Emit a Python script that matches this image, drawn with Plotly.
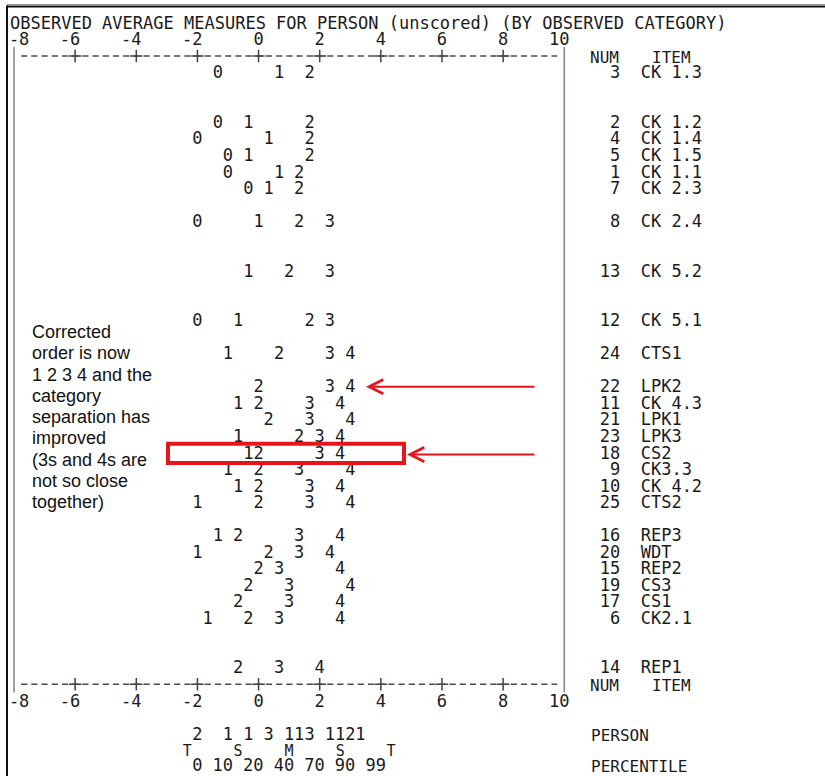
import plotly.graph_objects as go

# ---------------- data ----------------
title_text = "OBSERVED AVERAGE MEASURES FOR PERSON (unscored) (BY OBSERVED CATEGORY)"
axis_ticks = [-8, -6, -4, -2, 0, 2, 4, 6, 8, 10]

item_num = [3, 2, 4, 5, 1, 7, 8, 13, 12, 24, 22, 11, 21, 23, 18, 9, 10, 25,
            16, 20, 15, 19, 17, 6, 14]
item_name = ["CK 1.3", "CK 1.2", "CK 1.4", "CK 1.5", "CK 1.1", "CK 2.3", "CK 2.4",
             "CK 5.2", "CK 5.1", "CTS1", "LPK2", "CK 4.3", "LPK1", "LPK3", "CS2",
             "CK3.3", "CK 4.2", "CTS2", "REP3", "WDT", "REP2", "CS3", "CS1",
             "CK2.1", "REP1"]
# map row of each item (ordered by item measure)
item_line = [3, 6, 7, 8, 9, 10, 12, 15, 18, 20, 22, 23, 24, 25, 26, 27, 28, 29,
             31, 32, 33, 34, 35, 36, 39]

N = None
# observed average person measure for each category of each item
cat0 = [-1.33, -1.33, -2.0, -1.0, -1.0, -0.33, -2.0, N, -2.0, N, N, N, N, N, N, N,
        N, N, N, N, N, N, N, N, N]
cat1 = [0.67, -0.33, 0.33, -0.33, 0.67, 0.33, 0.0, -0.33, -0.67, -1.0, N, -0.67, N,
        -0.67, -0.33, -1.0, -0.67, -2.0, -1.33, -2.0, N, N, N, -1.67, N]
cat2 = [1.67, 1.67, 1.67, 1.67, 1.33, 1.33, 1.33, 1.0, 1.67, 0.67, 0.0, 0.0, 0.33,
        1.33, 0.0, 0.0, 0.0, 0.0, -0.67, 0.33, 0.0, -0.33, -0.67, -0.33, -0.67]
cat3 = [N, N, N, N, N, N, 2.33, 2.33, 2.33, 2.33, 2.33, 1.67, 1.67, 2.0, 2.0, 1.33,
        1.67, 1.67, 1.33, 1.33, 0.67, 1.0, 1.0, 0.67, 0.67]
cat4 = [N, N, N, N, N, N, N, N, N, 3.0, 3.0, 2.67, 3.0, 2.67, 2.67, 3.0, 2.67, 3.0,
        2.67, 2.33, 2.67, 3.0, 2.67, 2.67, 2.0]
categories = [cat0, cat1, cat2, cat3, cat4]

person_measure = [-2.0, -1.0, -0.33, 0.33, 1.0, 1.33, 1.67, 2.33, 2.67, 3.0, 3.33]
person_count = [2, 1, 1, 3, 1, 1, 3, 1, 1, 2, 1]
stat_measure = [-2.33, -0.67, 1.0, 2.67, 4.33]
stat_label = ["T", "S", "M", "S", "T"]
pct_measure = [-2.0, -1.17, -0.17, 0.83, 1.83, 2.83, 3.83]
pct_label = ["0", "10", "20", "40", "70", "90", "99"]

note_lines = ["Corrected", "order is now", "1 2 3 4 and the", "category",
              "separation has", "improved", "(3s and 4s are", "not so close",
              "together)"]

# ---------------- layout mapping ----------------
W, H = 825, 776
MONO = "DejaVu Sans Mono"
SANS = "Liberation Sans, Arial, sans-serif"
INK = "#1a1a1a"
RED = "#e8141b"
FS = 17

PXU = 30.57            # pixels per logit
X0 = -8 - 14 / PXU
X1 = X0 + W / PXU
LPX = 16.53            # pixels per text row
Y_TOP = -23 / LPX
Y_BOT = (H - 23) / LPX
TDY = 1.5 / LPX        # small baseline correction for text rows


def xm(px):
    return X0 + px / PXU


def yl(py):
    return (py - 23) / LPX


def paper_y(line):
    return 1 - (23 + line * LPX) / H


n = len(item_num)
fig = go.Figure()
mono = dict(family=MONO, size=FS, color=INK)
text_rows = [l + TDY for l in item_line]

for k, vals in enumerate(categories):
    fig.add_trace(go.Scatter(x=vals, y=text_rows, mode="text", text=[str(k)] * n,
                             textfont=mono, hoverinfo="skip", showlegend=False))

num_right = -8 + 59.5 / 3
name_left = -8 + 61.5 / 3
fig.add_trace(go.Scatter(x=[num_right] * n, y=text_rows, mode="text",
                         text=[str(v) for v in item_num], textposition="middle left",
                         textfont=mono, hoverinfo="skip", showlegend=False))
fig.add_trace(go.Scatter(x=[name_left] * n, y=text_rows, mode="text",
                         text=item_name, textposition="middle right",
                         textfont=mono, hoverinfo="skip", showlegend=False))

# frame "+" marks
inner = axis_ticks[1:-1]
fig.add_trace(go.Scatter(x=inner + inner, y=[2] * len(inner) + [40] * len(inner),
                         mode="markers",
                         marker=dict(symbol="cross-thin", size=9,
                                     line=dict(width=1.5, color="#4a3a4a")),
                         hoverinfo="skip", showlegend=False))

# person distribution rows
fig.add_trace(go.Scatter(x=person_measure, y=[43 + TDY] * len(person_measure), mode="text",
                         text=[str(c) for c in person_count], textfont=mono,
                         hoverinfo="skip", showlegend=False))
fig.add_trace(go.Scatter(x=stat_measure, y=[44 + TDY] * len(stat_measure), mode="text",
                         text=stat_label, textfont=dict(family=MONO, size=15, color=INK),
                         hoverinfo="skip", showlegend=False))
fig.add_trace(go.Scatter(x=pct_measure, y=[45] * len(pct_measure), mode="text",
                         text=pct_label, textfont=mono,
                         hoverinfo="skip", showlegend=False))

shapes = []
# vertical bars of the map
for xv in (axis_ticks[0], axis_ticks[-1]):
    shapes.append(dict(type="line", xref="x", yref="y", x0=xv, x1=xv, y0=1.45, y1=40.5,
                       line=dict(color="#8f8a82", width=1.6)))
# dashed rulers
for ln in (2, 40):
    shapes.append(dict(type="line", xref="x", yref="y",
                       x0=axis_ticks[0] + 7.1 / PXU, x1=axis_ticks[-1] - 7.1 / PXU,
                       y0=ln, y1=ln,
                       line=dict(color="#4a4a4a", width=1.4, dash="6.2px,4px")))
# red box
shapes.append(dict(type="rect", xref="x", yref="y", x0=xm(168), x1=xm(404),
                   y0=yl(443.8), y1=yl(463), line=dict(color=RED, width=4)))
# page borders
shapes.append(dict(type="line", xref="paper", yref="paper", x0=7 / W, x1=1,
                   y0=1 - 4.5 / H, y1=1 - 4.5 / H, line=dict(color="#9a9a9a", width=1)))
shapes.append(dict(type="line", xref="paper", yref="paper", x0=7 / W, x1=1,
                   y0=1 - 6.5 / H, y1=1 - 6.5 / H, line=dict(color="#111111", width=2)))
shapes.append(dict(type="line", xref="paper", yref="paper", x0=7 / W, x1=7 / W,
                   y0=0, y1=1 - 5.5 / H, line=dict(color="#111111", width=2)))

annotations = []
# headers
for ln in (2, 40):
    annotations.append(dict(x=num_right, y=ln + TDY, xref="x", yref="y", text="NUM",
                            showarrow=False, xanchor="right",
                            font=dict(family=MONO, size=16, color=INK), borderpad=0))
    annotations.append(dict(x=-8 + 62.5 / 3, y=ln + TDY, xref="x", yref="y", text="ITEM",
                            showarrow=False, xanchor="left",
                            font=dict(family=MONO, size=16, color=INK), borderpad=0))
for ln, lab in ((43 + TDY, "PERSON"), (45, "PERCENTILE")):
    annotations.append(dict(x=-8 + 56.5 / 3, y=ln, xref="x", yref="y", text=lab,
                            showarrow=False, xanchor="left",
                            font=dict(family=MONO, size=16, color=INK), borderpad=0))
# title
annotations.append(dict(x=-8 - 0.5 / 3, y=0, xref="x", yref="y", text=title_text,
                        showarrow=False, xanchor="left", font=mono, borderpad=0))
# note text
for i, t in enumerate(note_lines):
    annotations.append(dict(x=xm(31), y=yl(332 + 21.25 * i), xref="x", yref="y", text=t,
                            showarrow=False, xanchor="left",
                            font=dict(family=SANS, size=18, color="#111111"), borderpad=0))
# arrows
for head_px, row_py in ((366, 386.7), (407, 454.5)):
    annotations.append(dict(x=xm(head_px), y=yl(row_py), xref="x", yref="y",
                            ax=xm(536), ay=yl(row_py), axref="x", ayref="y",
                            text="", showarrow=True, arrowhead=5, arrowsize=1.4,
                            arrowwidth=2, arrowcolor=RED))


def tick_text(t):
    s = str(t)
    if t == axis_ticks[0]:
        return "\u00a0" + s          # first label sits just inside the frame
    return s + "\u00a0" * (len(s) - 1)  # last digit sits on the tick


ticktext = [tick_text(t) for t in axis_ticks]
axis_common = dict(range=[X0, X1], tickvals=axis_ticks, ticktext=ticktext,
                   showgrid=False, zeroline=False, showline=False, ticks="",
                   tickfont=mono, fixedrange=True, ticklabeloverflow="allow")

fig.update_layout(
    width=W, height=H, autosize=False,
    margin=dict(l=0, r=0, t=0, b=0, pad=0),
    paper_bgcolor="white", plot_bgcolor="white",
    xaxis=dict(**axis_common, domain=[0, 1], anchor="free", position=paper_y(40),
               side="bottom", ticklabelstandoff=5),
    xaxis2=dict(**axis_common, overlaying="x", matches="x", anchor="free",
                position=paper_y(2), side="top", ticklabelstandoff=8),
    yaxis=dict(range=[Y_BOT, Y_TOP], visible=False, fixedrange=True, domain=[0, 1]),
    shapes=shapes, annotations=annotations, showlegend=False,
)
# dummy trace to activate the top axis
fig.add_trace(go.Scatter(x=[None], y=[None], xaxis="x2", yaxis="y", showlegend=False,
                         hoverinfo="skip"))

fig.write_html("out.html", config={"displayModeBar": False},
               post_script="document.body.style.margin='0';")
